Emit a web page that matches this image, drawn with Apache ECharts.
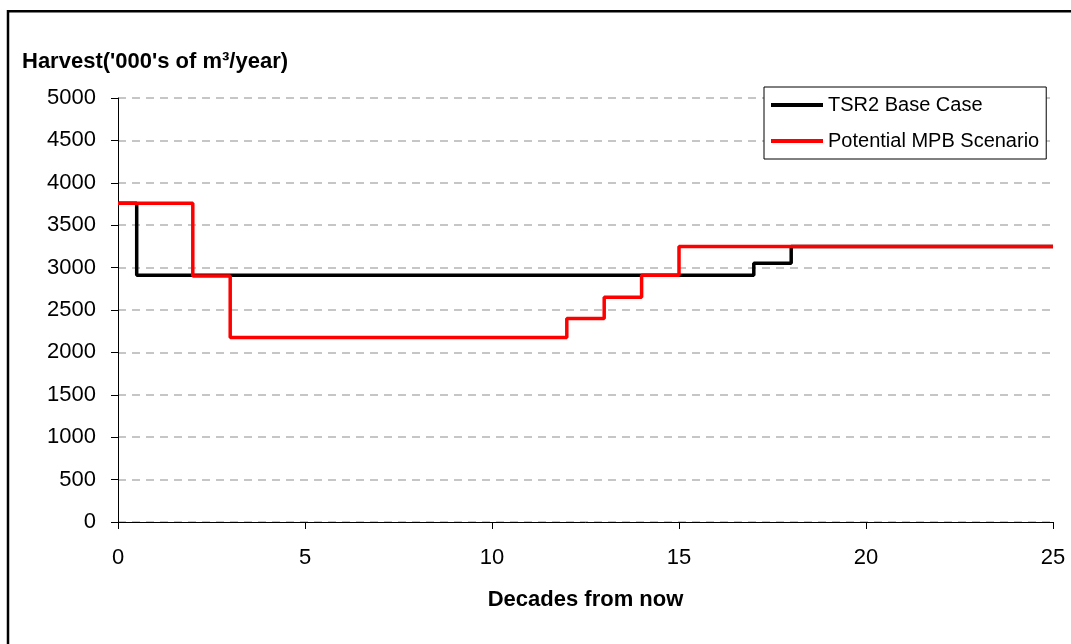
<!DOCTYPE html>
<html>
<head>
<meta charset="utf-8">
<script src="https://cdn.jsdelivr.net/npm/echarts@6/dist/echarts.min.js"></script>
<style>
  html, body { margin: 0; padding: 0; background: #fff; }
  #chart { width: 1071px; height: 644px; }
</style>
</head>
<body>
<div id="chart"></div>
<script>
// Harvest level by decade: [decade, '000s m3/year] step points
const seriesNames = ['TSR2 Base Case', 'Potential MPB Scenario'];
const baseCase = [[0, 3760], [0.5, 2910], [17, 3050], [18, 3250], [25, 3250]];
const mpbScenario = [[0, 3760], [2, 2900], [3, 2175], [12, 2400], [13, 2650], [14, 2910], [15, 3250], [25, 3250]];
const xTicks = [0, 5, 10, 15, 20, 25];
const yTicks = [0, 500, 1000, 1500, 2000, 2500, 3000, 3500, 4000, 4500, 5000];

const FONT = '"Liberation Sans", Arial, sans-serif';
const chart = echarts.init(document.getElementById('chart'), null, { renderer: 'canvas' });

chart.setOption({
  backgroundColor: '#ffffff',
  animation: false,
  title: {
    text: "Harvest('000's of m\u00b3/year)",
    left: 22,
    top: 51,
    padding: 0,
    textStyle: { fontFamily: FONT, fontSize: 22, fontWeight: 'bold', color: '#000' }
  },
  graphic: [{
    type: 'rect',
    shape: { x: 8, y: 11.3, width: 1200, height: 1000 },
    style: { fill: 'none', stroke: '#000', lineWidth: 2.5 },
    silent: true
  }],
  legend: {
    orient: 'vertical',
    left: 764,
    top: 87,
    padding: [8, 7, 8, 7],
    itemGap: 16,
    itemWidth: 52,
    itemHeight: 4,
    itemTextGap: 8,
    icon: 'rect',
    backgroundColor: '#ffffff',
    borderColor: '#000',
    borderWidth: 1,
    textStyle: { fontFamily: FONT, fontSize: 20, color: '#000' },
    data: seriesNames
  },
  grid: { left: 118, right: 18, top: 98, bottom: 122, containLabel: false },
  xAxis: {
    type: 'value',
    min: xTicks[0],
    max: xTicks[xTicks.length - 1],
    interval: 5,
    name: 'Decades from now',
    nameLocation: 'middle',
    nameGap: 67,
    nameTextStyle: { fontFamily: FONT, fontSize: 22, fontWeight: 'bold', color: '#000' },
    axisLine: { lineStyle: { color: '#000', width: 1 } },
    axisTick: { length: 7, lineStyle: { color: '#000' } },
    axisLabel: { fontFamily: FONT, fontSize: 22, color: '#000', margin: 25, formatter: v => String(v) },
    splitLine: { show: false }
  },
  yAxis: {
    type: 'value',
    min: yTicks[0],
    max: yTicks[yTicks.length - 1],
    interval: 500,
    axisLine: { show: true, lineStyle: { color: '#000', width: 1 } },
    axisTick: { show: true, length: 7, lineStyle: { color: '#000' } },
    axisLabel: { fontFamily: FONT, fontSize: 22, color: '#000', margin: 22, formatter: v => String(v) },
    splitLine: { show: true, lineStyle: { color: '#b4b4b4', type: [8, 6], width: 1.5 } }
  },
  series: [
    {
      name: seriesNames[0],
      type: 'line',
      step: 'end',
      data: baseCase,
      symbol: 'none',
      color: '#000000',
      lineStyle: { color: '#000000', width: 3.5 }
    },
    {
      name: seriesNames[1],
      type: 'line',
      step: 'end',
      data: mpbScenario,
      symbol: 'none',
      color: '#ff0000',
      lineStyle: { color: '#ff0000', width: 3.5 }
    }
  ]
});
</script>
</body>
</html>
